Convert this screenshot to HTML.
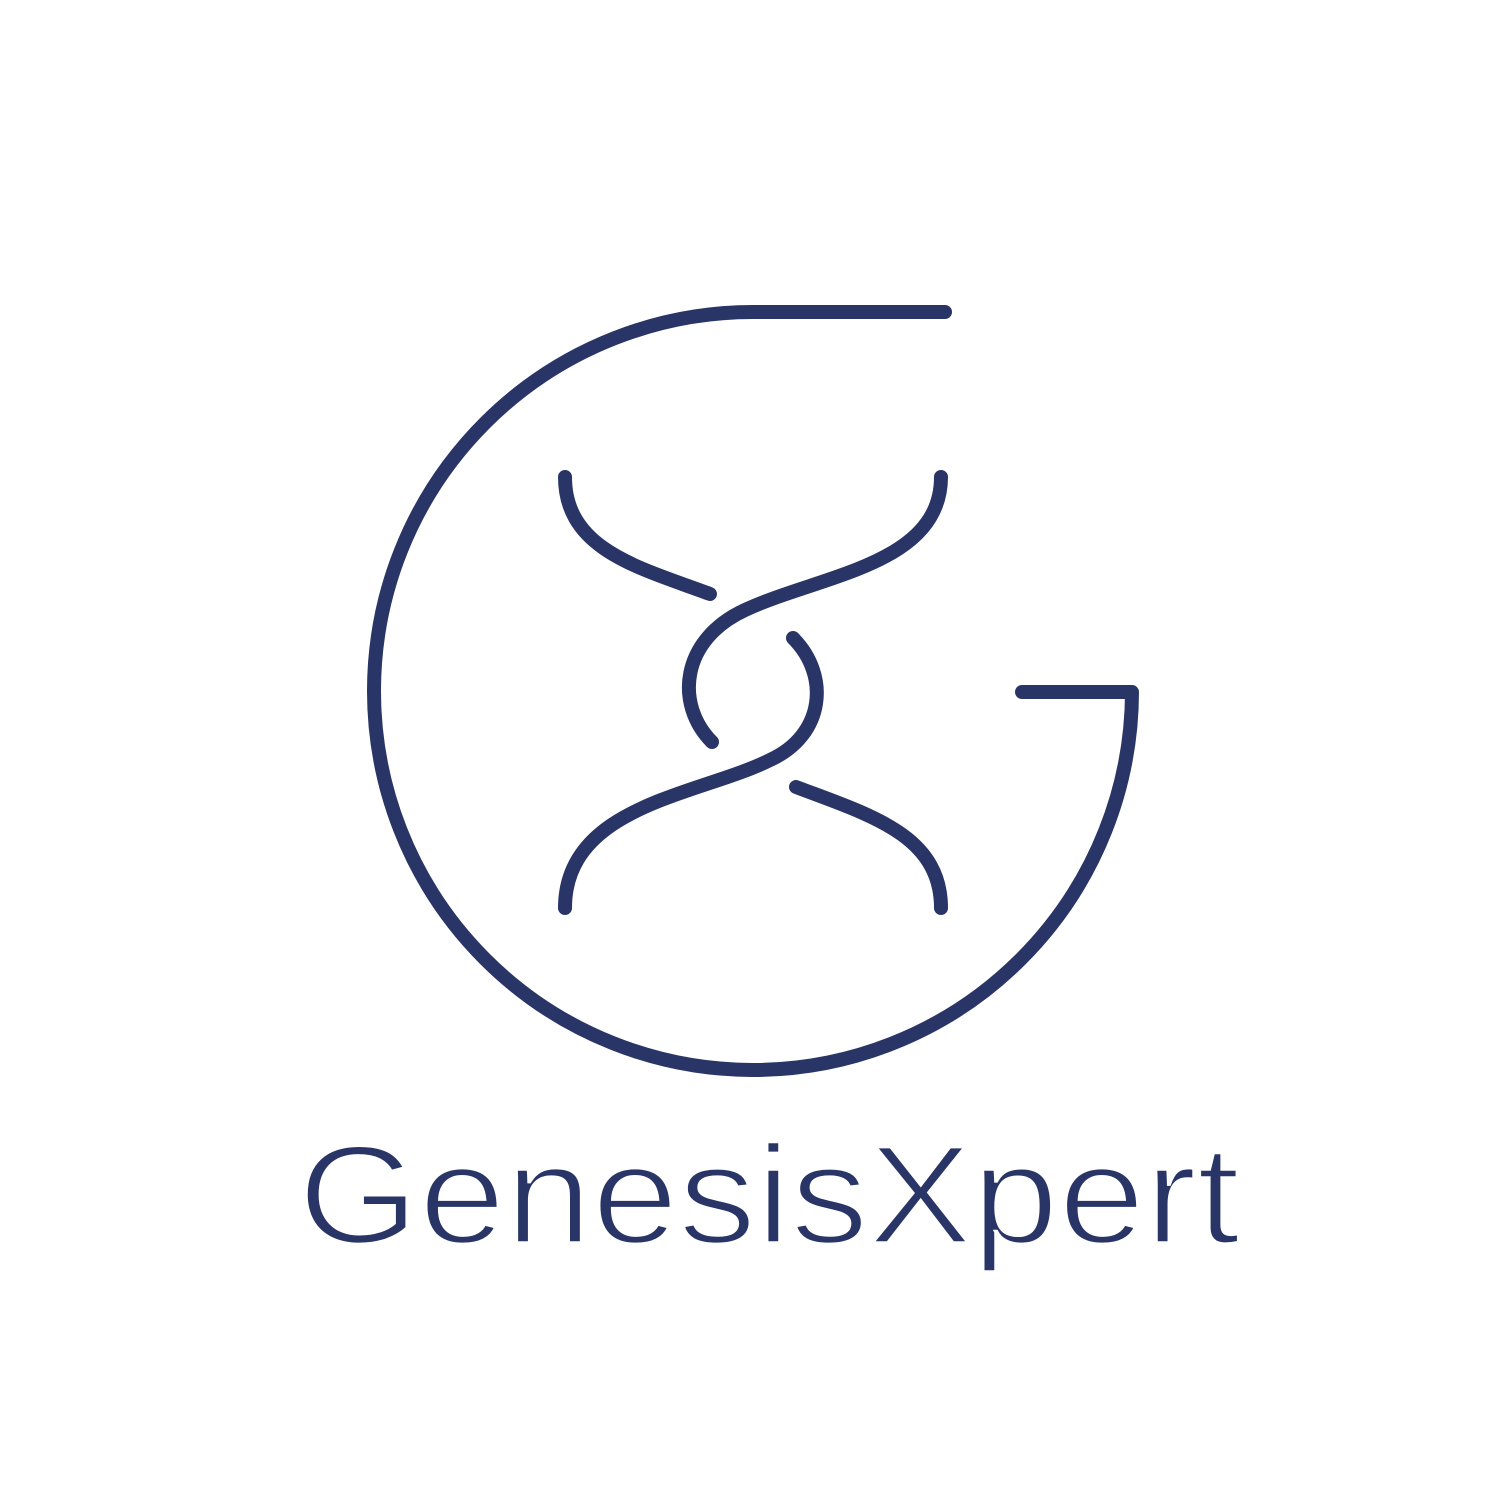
<!DOCTYPE html>
<html>
<head>
<meta charset="utf-8">
<style>
  html,body{margin:0;padding:0;background:#fff;}
  svg{display:block;}
</style>
</head>
<body>
<svg width="1500" height="1500" viewBox="0 0 1500 1500">
  <g fill="none" stroke="#283566" stroke-width="14" stroke-linecap="round" stroke-linejoin="round">
    <path
      d="M945,312 L754,312 A379,379 0 1 0 1132,692 L1022,692"/>
    <path
      d="M565,477 C565,550 640,568 710,594"/>
    <path
      d="M941,477 C941,565 820,575 745,610 C680,640 675,705 712,742"/>
    <path
      d="M793,638 C830,675 825,735 770,760 C700,795 565,805 565,908"/>
    <path
      d="M796,787 C870,815 941,835 941,908"/>
  </g>
  <text x="298" y="1243"
    font-family="Liberation Sans, sans-serif" font-size="140" fill="#283566"
    stroke="#fff" stroke-width="3.5"
    textLength="942" lengthAdjust="spacingAndGlyphs">GenesisXpert</text>
</svg>
</body>
</html>
